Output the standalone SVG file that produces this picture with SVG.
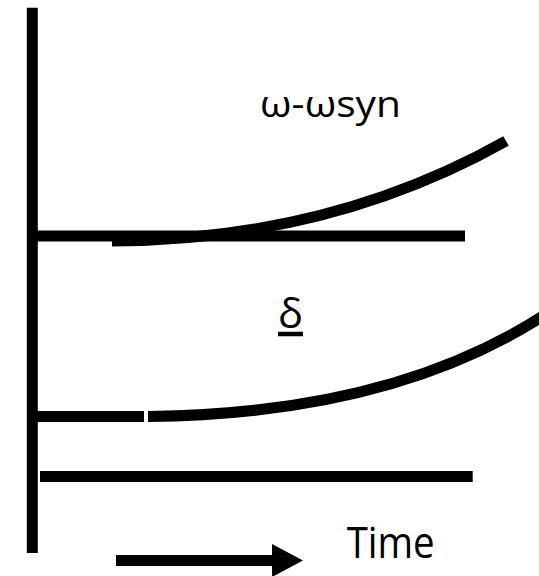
<svg xmlns="http://www.w3.org/2000/svg" width="539" height="576" viewBox="0 0 539 576">
<style>
.ln{stroke:#000;stroke-width:11;fill:none}
.t{font-family:"Open Sans","DejaVu Sans",sans-serif;fill:#000}
</style>
<rect width="539" height="576" fill="#fff"/>
<g id="axes">
<line class="ln" x1="32.3" y1="7.7" x2="32.3" y2="553"/>
<line class="ln" x1="37" y1="236" x2="465" y2="236"/>
<line class="ln" x1="37" y1="416.5" x2="144" y2="416.5"/>
<line class="ln" x1="40" y1="476.5" x2="472.7" y2="476.5"/>
</g>
<g id="curves">
<path class="ln" d="M112,241 Q330,240 506,141"/>
<path class="ln" d="M148,416.5 Q390,414 543,316"/>
</g>
<g id="arrow">
<line class="ln" x1="116" y1="560.5" x2="274" y2="560.5"/>
<polygon points="272,544 303,560.5 272,577" fill="#000"/>
</g>
<g id="labels">
<text class="t" x="260" y="116.5" font-size="37" textLength="141" lengthAdjust="spacingAndGlyphs">ω-ωsyn</text>
<text class="t" x="278" y="328" font-size="40" textLength="25" lengthAdjust="spacingAndGlyphs">δ</text>
<line x1="278" y1="334" x2="303" y2="334" stroke="#000" stroke-width="4.5"/>
<text class="t" x="346.7" y="558.3" font-size="44" textLength="88" lengthAdjust="spacingAndGlyphs">Time</text>
</g>
</svg>
